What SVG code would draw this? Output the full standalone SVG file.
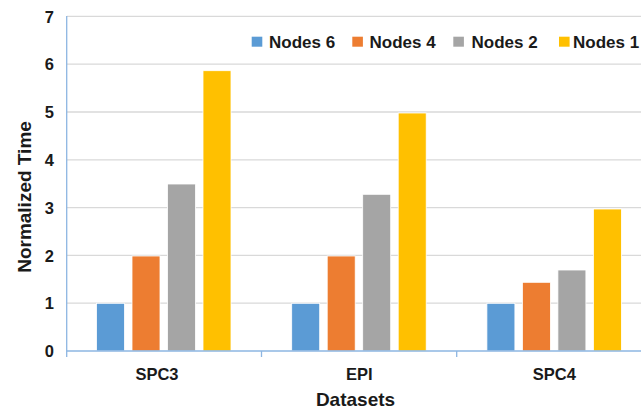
<svg xmlns="http://www.w3.org/2000/svg" width="641" height="411" viewBox="0 0 641 411">
<style>
text{font-family:"Liberation Sans",Arial,sans-serif;font-weight:bold;fill:#1a1a1a}
.tick{font-size:16.5px;text-anchor:end}
.cat{font-size:16.5px;text-anchor:middle}
.leg{font-size:17px}
.grid{stroke:#D9D9D9;stroke-width:1.3}
.axis{stroke:#8DB6E2;stroke-width:1.3;fill:none}
.b6{fill:#5B9BD5}.b4{fill:#ED7D31}.b2{fill:#A5A5A5}.b1{fill:#FFC000}
rect.bar{stroke:#fff;stroke-width:0.8}
</style>
<rect width="641" height="411" fill="#fff"/>
<g id="grid">
<line class="grid" x1="67" y1="16.4" x2="641" y2="16.4"/>
<line class="grid" x1="67" y1="64.2" x2="641" y2="64.2"/>
<line class="grid" x1="67" y1="112" x2="641" y2="112"/>
<line class="grid" x1="67" y1="159.8" x2="641" y2="159.8"/>
<line class="grid" x1="67" y1="207.6" x2="641" y2="207.6"/>
<line class="grid" x1="67" y1="255.4" x2="641" y2="255.4"/>
<line class="grid" x1="67" y1="303.2" x2="641" y2="303.2"/>
</g>
<g id="ticks">
<text class="tick" x="54" y="22.5">7</text>
<text class="tick" x="54" y="70.3">6</text>
<text class="tick" x="54" y="118.1">5</text>
<text class="tick" x="54" y="165.9">4</text>
<text class="tick" x="54" y="213.7">3</text>
<text class="tick" x="54" y="261.5">2</text>
<text class="tick" x="54" y="309.3">1</text>
<text class="tick" x="54" y="357.1">0</text>
</g>
<g id="bars-spc3">
<rect class="bar b6" x="96.5" y="303.3" width="28" height="47.7"/>
<rect class="bar b4" x="132" y="256" width="28" height="95"/>
<rect class="bar b2" x="167.5" y="184" width="28" height="167"/>
<rect class="bar b1" x="203" y="70.7" width="28" height="280.3"/>
</g>
<g id="bars-epi">
<rect class="bar b6" x="291.7" y="303.3" width="28" height="47.7"/>
<rect class="bar b4" x="327.2" y="256" width="28" height="95"/>
<rect class="bar b2" x="362.7" y="194.3" width="28" height="156.7"/>
<rect class="bar b1" x="398.2" y="113" width="28" height="238"/>
</g>
<g id="bars-spc4">
<rect class="bar b6" x="486.9" y="303.3" width="28" height="47.7"/>
<rect class="bar b4" x="522.4" y="282.3" width="28" height="68.7"/>
<rect class="bar b2" x="557.9" y="270" width="28" height="81"/>
<rect class="bar b1" x="593.4" y="209" width="28" height="142"/>
</g>
<g id="axes">
<line class="axis" x1="66.7" y1="16" x2="66.7" y2="357"/>
<line class="axis" x1="66.7" y1="351" x2="641" y2="351"/>
<line class="axis" x1="261.5" y1="351" x2="261.5" y2="357"/>
<line class="axis" x1="456.7" y1="351" x2="456.7" y2="357"/>
</g>
<g id="categories">
<text class="cat" x="157" y="379.5">SPC3</text>
<text class="cat" x="359.2" y="379.5">EPI</text>
<text class="cat" x="554.4" y="379.5">SPC4</text>
</g>
<text id="xtitle" x="355.5" y="406" font-size="19" text-anchor="middle">Datasets</text>
<text id="ytitle" transform="translate(31,197) rotate(-90)" text-anchor="middle" font-size="19">Normalized Time</text>
<g id="legend">
<rect class="b6" x="251.7" y="36.7" width="10.6" height="10"/>
<text class="leg" x="269" y="47.7">Nodes 6</text>
<rect class="b4" x="352.3" y="36.7" width="10.6" height="10"/>
<text class="leg" x="369.5" y="47.7">Nodes 4</text>
<rect class="b2" x="453.3" y="36.7" width="10.6" height="10"/>
<text class="leg" x="471.5" y="47.7">Nodes 2</text>
<rect class="b1" x="559" y="36.7" width="10.6" height="10"/>
<text class="leg" x="573" y="47.7">Nodes 1</text>
</g>
</svg>
